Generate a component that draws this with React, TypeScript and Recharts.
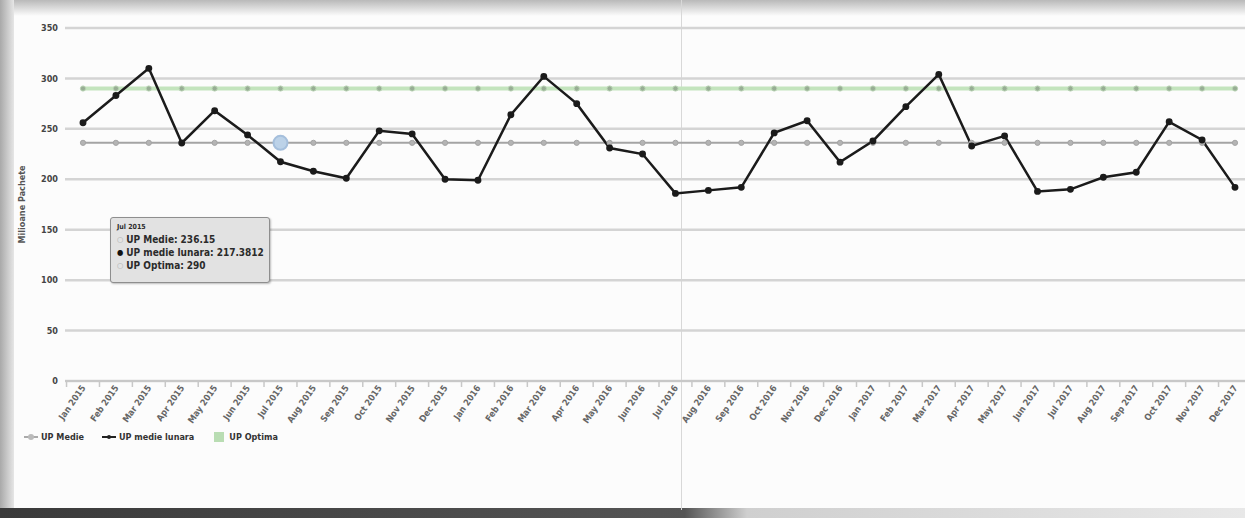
import React from "react";
import {
  CartesianGrid,
  Legend,
  Line,
  LineChart,
  Tooltip,
  XAxis,
  YAxis,
} from "recharts";

const months = [
  "Jan 2015", "Feb 2015", "Mar 2015", "Apr 2015", "May 2015", "Jun 2015",
  "Jul 2015", "Aug 2015", "Sep 2015", "Oct 2015", "Nov 2015", "Dec 2015",
  "Jan 2016", "Feb 2016", "Mar 2016", "Apr 2016", "May 2016", "Jun 2016",
  "Jul 2016", "Aug 2016", "Sep 2016", "Oct 2016", "Nov 2016", "Dec 2016",
  "Jan 2017", "Feb 2017", "Mar 2017", "Apr 2017", "May 2017", "Jun 2017",
  "Jul 2017", "Aug 2017", "Sep 2017", "Oct 2017", "Nov 2017", "Dec 2017",
];

// UP medie lunara (black line)
const lunara = [
  256, 283, 310, 236, 268, 244, 217.3812, 208, 201, 248, 245, 200,
  199, 264, 302, 275, 231, 225, 186, 189, 192, 246, 258, 217,
  238, 272, 304, 233, 243, 188, 190, 202, 207, 257, 239, 192,
];

// UP Medie and UP Optima are flat across the whole period
const medie = [
  236.15, 236.15, 236.15, 236.15, 236.15, 236.15, 236.15, 236.15, 236.15, 236.15, 236.15, 236.15,
  236.15, 236.15, 236.15, 236.15, 236.15, 236.15, 236.15, 236.15, 236.15, 236.15, 236.15, 236.15,
  236.15, 236.15, 236.15, 236.15, 236.15, 236.15, 236.15, 236.15, 236.15, 236.15, 236.15, 236.15,
];
const optima = [
  290, 290, 290, 290, 290, 290, 290, 290, 290, 290, 290, 290,
  290, 290, 290, 290, 290, 290, 290, 290, 290, 290, 290, 290,
  290, 290, 290, 290, 290, 290, 290, 290, 290, 290, 290, 290,
];

const yTicks = [0, 50, 100, 150, 200, 250, 300, 350];

const rows = months.map((m, i) => ({
  month: m,
  medie: medie[i],
  lunara: lunara[i],
  optima: optima[i],
}));

const FONT = "'Liberation Sans Narrow', 'DejaVu Sans Condensed', 'Liberation Sans', sans-serif";
const STEP = 32.9;

function MonthTick({ x, y, payload }: any) {
  return (
    <g transform={`translate(${x},${y})`}>
      <line x1={-STEP / 2} y1={0} x2={-STEP / 2} y2={6} stroke="#c8c8c8" strokeWidth={1.5} />
      <text
        x={3}
        y={7}
        textAnchor="end"
        transform="rotate(-55 3 7)"
        fontSize={9}
        fontWeight={700}
        fill="#666"
        fontFamily={FONT}
      >
        {payload.value}
      </text>
    </g>
  );
}

function TipBox({ active, payload, label }: any) {
  if (!active || !payload || !payload.length) return null;
  const get = (k: string) => payload.find((p: any) => p.dataKey === k)?.value;
  const row = (marker: React.ReactNode, name: string, v: any) => (
    <div style={{ display: "flex", alignItems: "center", gap: 3, lineHeight: "13px", whiteSpace: "nowrap" }}>
      {marker}
      <span>{name}:</span>
      <span style={{ fontWeight: 700 }}>{v}</span>
    </div>
  );
  return (
    <div
      style={{
        width: 146,
        height: 54,
        background: "#e2e2e2",
        border: "1px solid #8e8e8e",
        borderRadius: 3,
        boxShadow: "1px 1px 2px rgba(0,0,0,0.25)",
        padding: "5px 6px 5px 6px",
        fontFamily: FONT,
        fontSize: 10,
        fontWeight: 700,
        color: "#2b2b2b",
      }}
    >
      <div style={{ fontSize: 7, lineHeight: "9px", marginBottom: 1 }}>{label}</div>
      {row(<span style={{ color: "#aaa", fontSize: 8 }}>○</span>, "UP Medie", get("medie"))}
      {row(<span style={{ color: "#111", fontSize: 8 }}>●</span>, "UP medie lunara", get("lunara"))}
      {row(<span style={{ color: "#aaa", fontSize: 8 }}>○</span>, "UP Optima", get("optima"))}
    </div>
  );
}

function LegendRow() {
  return (
    <div
      style={{
        display: "flex",
        alignItems: "center",
        height: 16,
        fontFamily: FONT,
        fontSize: 9,
        fontWeight: 700,
        color: "#333",
        whiteSpace: "nowrap",
      }}
    >
      <svg width={14} height={10}>
        <line x1={0} y1={5} x2={14} y2={5} stroke="#aaa" strokeWidth={2} />
        <circle cx={7} cy={5} r={3} fill="#bbb" />
      </svg>
      <span style={{ marginLeft: 3, marginRight: 18 }}>UP Medie</span>
      <svg width={14} height={10}>
        <line x1={0} y1={5} x2={14} y2={5} stroke="#222" strokeWidth={2} />
        <circle cx={7} cy={5} r={2} fill="#222" />
      </svg>
      <span style={{ marginLeft: 3, marginRight: 20 }}>UP medie lunara</span>
      <svg width={10} height={10}>
        <rect x={0} y={0} width={10} height={10} fill="#b9ddb3" />
      </svg>
      <span style={{ marginLeft: 5 }}>UP Optima</span>
    </div>
  );
}

export default function App() {
  return (
    <div
      style={{
        position: "absolute",
        left: 0,
        top: 0,
        width: 1245,
        height: 518,
        overflow: "hidden",
        background: "#fcfcfc",
      }}
    >
      {/* paper edges of the photographed page */}
      <div style={{ position: "absolute", left: 0, top: 0, width: 1245, height: 16, background: "linear-gradient(#b9b9b9, #fcfcfc)" }} />
      <div style={{ position: "absolute", left: 0, top: 0, width: 14, height: 518, background: "linear-gradient(90deg, #a9a9a9, #e6e6e6)" }} />
      <div style={{ position: "absolute", left: 0, top: 508, width: 1245, height: 10, background: "linear-gradient(90deg, #3a3a3a 0%, #555 55%, #cfcfcf 60%, #e8e8e8 100%)" }} />
      <div style={{ position: "absolute", left: 681, top: 0, width: 1, height: 510, background: "#d8d8d8" }} />

      <div style={{ position: "absolute", left: 0, top: 0 }}>
        <LineChart
          width={1245}
          height={518}
          data={rows}
          margin={{ top: 28, right: 0, bottom: 0, left: 0 }}
        >
          <CartesianGrid horizontal vertical={false} stroke="#d4d4d4" strokeWidth={2.5} />
          <XAxis
            dataKey="month"
            interval={0}
            padding={{ left: 18, right: 10 }}
            tick={<MonthTick />}
            tickLine={false}
            tickSize={0}
            tickMargin={0}
            axisLine={{ stroke: "#c8c8c8", strokeWidth: 2 }}
            height={121}
          />
          <YAxis
            domain={[0, 350]}
            ticks={yTicks}
            width={65}
            tickLine={false}
            axisLine={false}
            tickSize={0}
            tickMargin={7}
            tick={{ fontSize: 9, fill: "#444", fontWeight: 700, fontFamily: FONT }}
            label={{
              value: "Milioane Pachete",
              angle: -90,
              position: "insideLeft",
              offset: 22,
              style: { textAnchor: "middle", fontSize: 9, fill: "#555", fontWeight: 700, fontFamily: FONT },
            }}
          />
          <Tooltip
            active
            defaultIndex={6}
            cursor={false}
            position={{ x: 110, y: 217 }}
            content={<TipBox />}
            isAnimationActive={false}
          />
          <Legend
            content={<LegendRow />}
            wrapperStyle={{ top: 429, left: 24, bottom: "auto", width: "auto" }}
          />
          <Line
            dataKey="optima"
            name="UP Optima"
            stroke="#c3e4bd"
            strokeWidth={4}
            dot={{ r: 2.6, fill: "#97ad94", stroke: "#b9d3b4", strokeWidth: 1 }}
            activeDot={false}
            isAnimationActive={false}
          />
          <Line
            dataKey="medie"
            name="UP Medie"
            stroke="#a4a4a4"
            strokeWidth={2}
            dot={{ r: 2.6, fill: "#b4b4b4", stroke: "#a4a4a4", strokeWidth: 1 }}
            activeDot={{ r: 7, fill: "#bcd2e8", stroke: "#a5bfdc" }}
            isAnimationActive={false}
          />
          <Line
            dataKey="lunara"
            name="UP medie lunara"
            stroke="#1b1b1b"
            strokeWidth={2.5}
            dot={{ r: 2.2, fill: "#1b1b1b", stroke: "#1b1b1b" }}
            activeDot={false}
            isAnimationActive={false}
          />
        </LineChart>
      </div>
    </div>
  );
}
